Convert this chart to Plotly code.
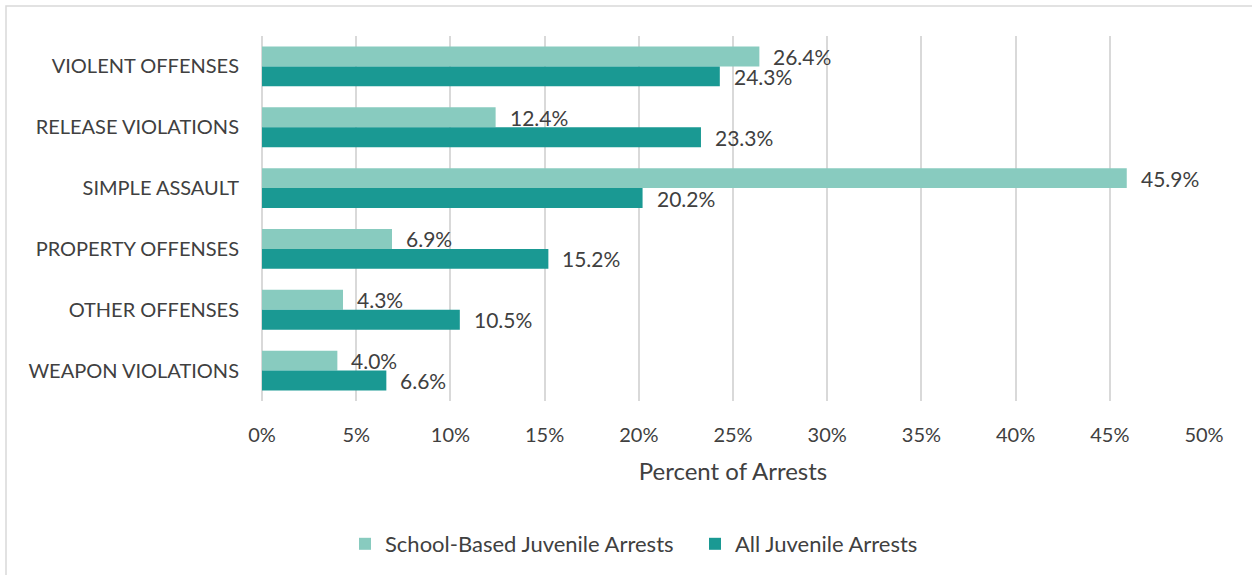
import plotly.graph_objects as go

categories = ["VIOLENT OFFENSES", "RELEASE VIOLATIONS", "SIMPLE ASSAULT",
              "PROPERTY OFFENSES", "OTHER OFFENSES", "WEAPON VIOLATIONS"]
school_based = [26.4, 12.4, 45.9, 6.9, 4.3, 4.0]
all_juvenile = [24.3, 23.3, 20.2, 15.2, 10.5, 6.6]
tick_vals = [0, 5, 10, 15, 20, 25, 30, 35, 40, 45, 50]
tick_text = [f"{v}%" for v in tick_vals]

LIGHT = "#88CBBF"
DARK = "#1A9993"
TEXT = "#404040"
GRID = "#D9D9D9"
FONT = "Lato"

W, H = 1252, 575
L, R, T, B = 262, 48, 36, 173

fig = go.Figure()
fig.add_trace(go.Bar(name="School-Based Juvenile Arrests", y=categories, x=school_based,
                     orientation="h", marker=dict(color=LIGHT, line=dict(width=0))))
fig.add_trace(go.Bar(name="All Juvenile Arrests", y=categories, x=all_juvenile,
                     orientation="h", marker=dict(color=DARK, line=dict(width=0))))

# value labels just past the end of each bar
annotations = []
for cat, a, b in zip(categories, school_based, all_juvenile):
    for val, shift in ((a, 10), (b, -10)):
        annotations.append(dict(x=val, y=cat, xref="x", yref="y", text=f"{val:.1f}%",
                                showarrow=False, xanchor="left", yanchor="middle",
                                xshift=12, yshift=shift,
                                font=dict(family=FONT, size=21, color=TEXT)))

pw = W - L - R
ph = H - T - B
def px_x(p):
    return (p - L) / pw
def px_y(p):
    return (H - B - p) / ph

# outer chart frame
shapes = [dict(type="rect", xref="paper", yref="paper",
               x0=px_x(6), x1=px_x(1262), y0=px_y(6), y1=px_y(590),
               line=dict(color=GRID, width=1.5), fillcolor="rgba(0,0,0,0)")]

fig.update_layout(
    width=W, height=H,
    margin=dict(l=L, r=R, t=T, b=B, pad=0),
    paper_bgcolor="white", plot_bgcolor="white",
    barmode="group", bargap=0.344, bargroupgap=0,
    font=dict(family=FONT, size=20, color=TEXT),
    annotations=annotations,
    shapes=shapes,
    legend=dict(orientation="h", x=px_x(345), xanchor="left",
                y=px_y(544), yanchor="middle",
                font=dict(family=FONT, size=22, color=TEXT),
                traceorder="normal", itemwidth=30,
                entrywidth=305, entrywidthmode="pixels"),
    xaxis=dict(range=[0, 50], tickvals=tick_vals, ticktext=tick_text,
               showgrid=True, gridcolor=GRID, gridwidth=1.5,
               zeroline=True, zerolinecolor=GRID, zerolinewidth=1.5,
               showline=False, ticks="", ticklabelstandoff=20,
               tickfont=dict(family=FONT, size=20, color=TEXT),
               title=dict(text="Percent of Arrests", standoff=18,
                          font=dict(family=FONT, size=24, color=TEXT))),
    yaxis=dict(autorange="reversed", showgrid=False, ticks="",
               ticklabelstandoff=22,
               tickfont=dict(family=FONT, size=20, color=TEXT)),
    showlegend=True,
)

fig.write_html("out.html")
